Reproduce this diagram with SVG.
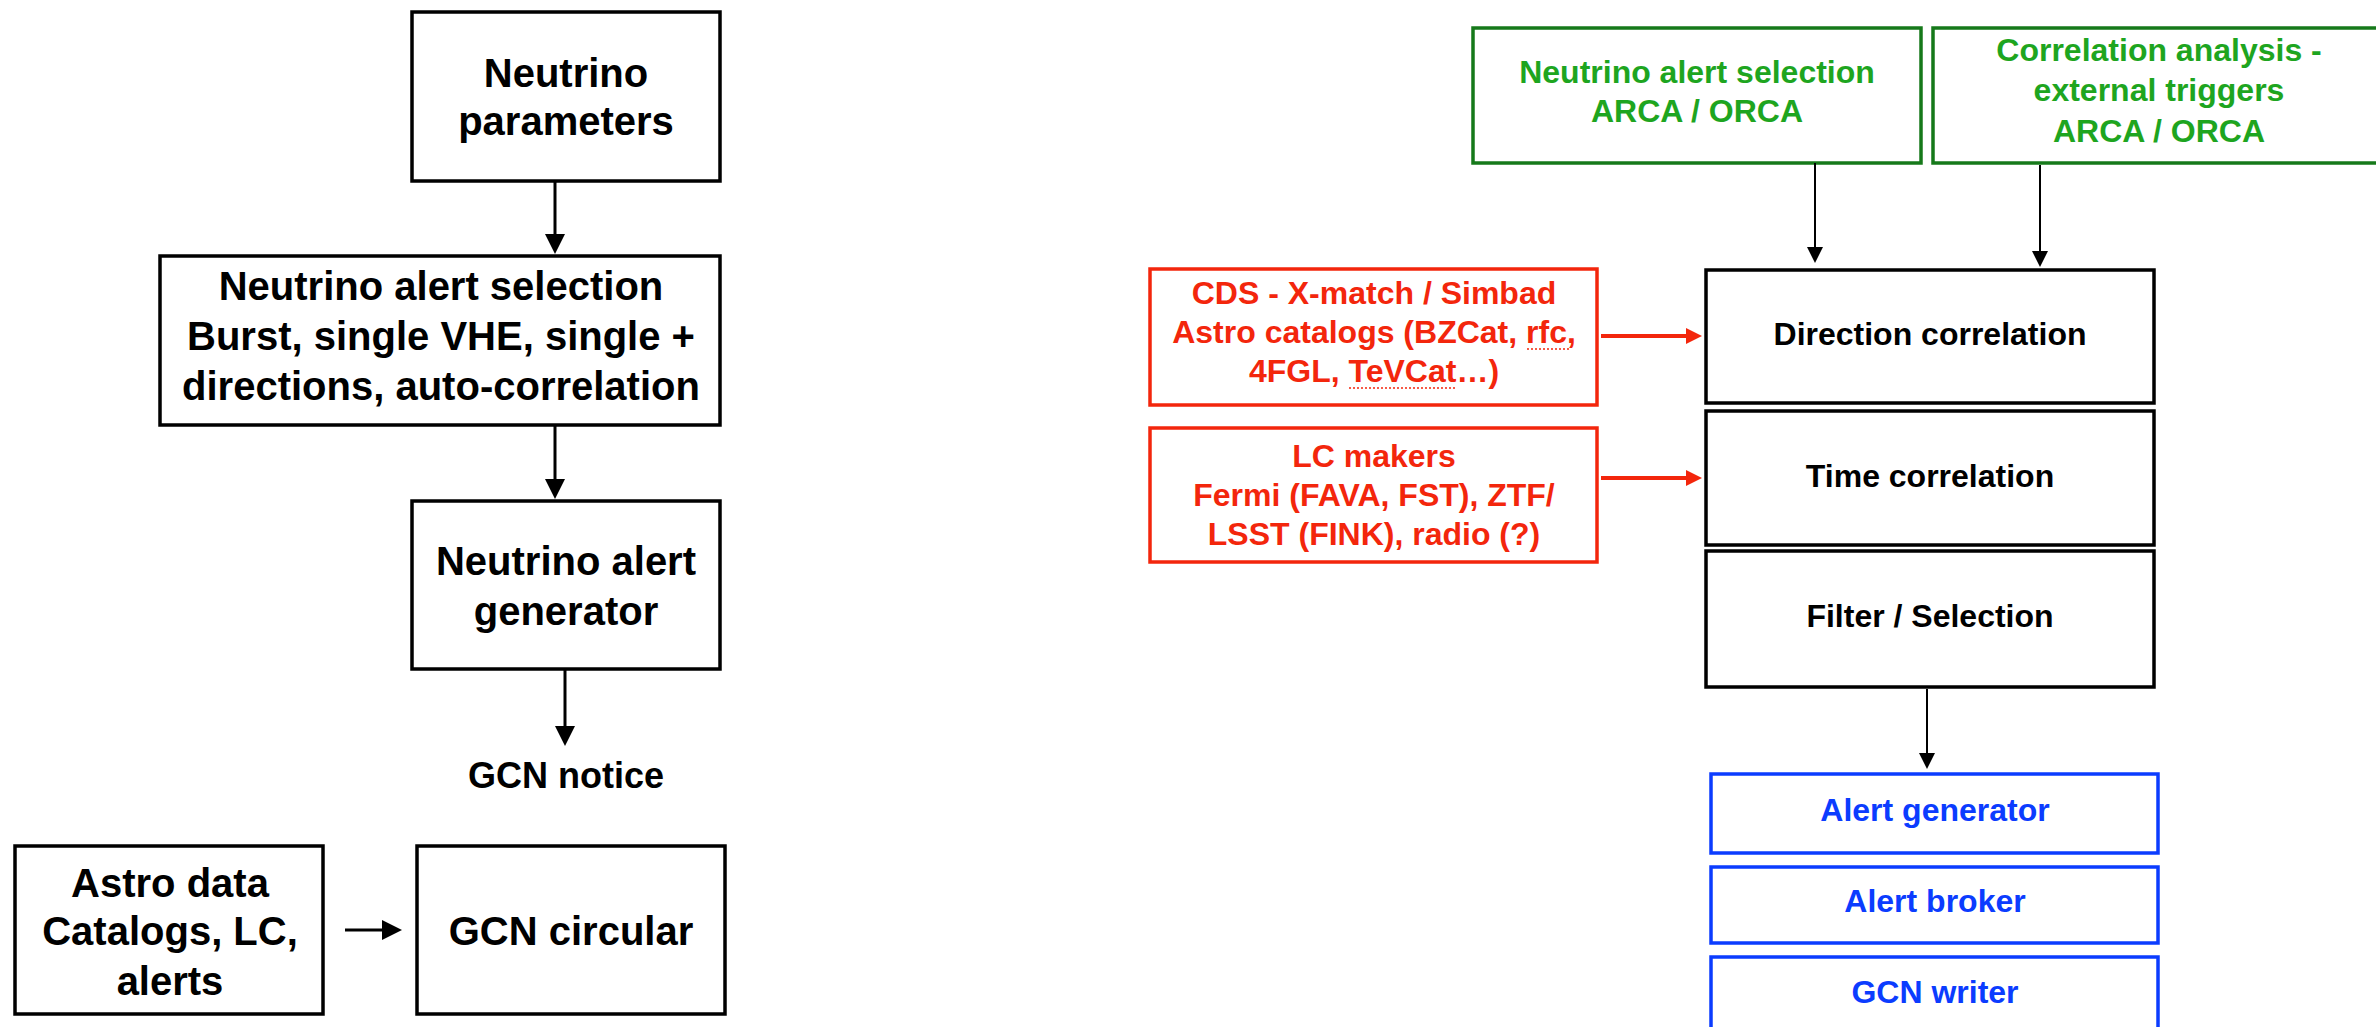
<svg xmlns="http://www.w3.org/2000/svg" width="2376" height="1027" viewBox="0 0 2376 1027">
  <defs>
    <style>
      text { font-family: "Liberation Sans", Arial, Helvetica, sans-serif; font-weight: bold; text-anchor: middle; }
      .box { fill: #ffffff; stroke: #000000; stroke-width: 3.5; }
      .gbox { fill: #ffffff; stroke: #16791a; stroke-width: 3.5; }
      .rbox { fill: #ffffff; stroke: #f3260c; stroke-width: 3.5; }
      .bbox { fill: #ffffff; stroke: #0b3cff; stroke-width: 3.5; }
      .big { font-size: 40px; fill: #000000; }
      .note { font-size: 36px; fill: #000000; }
      .mid { font-size: 32px; fill: #000000; }
      .green { font-size: 32px; fill: #1ea51f; }
      .red { font-size: 32px; fill: #f3260c; }
      .blue { font-size: 32px; fill: #0b3cff; }
      .link { fill: none; stroke: #000000; stroke-width: 3; }
      .thin { fill: none; stroke: #000000; stroke-width: 2; }
      .rlink { fill: none; stroke: #f3260c; stroke-width: 4; }
      .squiggle { fill: none; stroke: #f3260c; stroke-width: 1.6; stroke-dasharray: 2 2; }
    </style>
    <marker id="head-lg" markerUnits="userSpaceOnUse" markerWidth="20" markerHeight="20" viewBox="0 0 20 20" refX="12" refY="10" orient="auto">
      <path d="M0,0 L20,10 L0,20 Z" fill="#000000"/>
    </marker>
    <marker id="head-sm" markerUnits="userSpaceOnUse" markerWidth="16" markerHeight="16" viewBox="0 0 16 16" refX="10" refY="8" orient="auto">
      <path d="M0,0 L16,8 L0,16 Z" fill="#000000"/>
    </marker>
    <marker id="head-red" markerUnits="userSpaceOnUse" markerWidth="16" markerHeight="16" viewBox="0 0 16 16" refX="10" refY="8" orient="auto">
      <path d="M0,0 L16,8 L0,16 Z" fill="#f3260c"/>
    </marker>
  </defs>

  <rect width="2376" height="1027" fill="#ffffff"/>

  <!-- Neutrino alert chain (left) -->
  <g id="neutrino-parameters">
    <rect class="box" x="412" y="12" width="308" height="169"/>
    <text class="big" x="566" y="87">Neutrino</text>
    <text class="big" x="566" y="135">parameters</text>
  </g>
  <g id="neutrino-alert-selection">
    <rect class="box" x="160" y="256" width="560" height="169"/>
    <text class="big" x="441" y="300">Neutrino alert selection</text>
    <text class="big" x="441" y="350">Burst, single VHE, single +</text>
    <text class="big" x="441" y="400">directions, auto-correlation</text>
  </g>
  <g id="neutrino-alert-generator">
    <rect class="box" x="412" y="501" width="308" height="168"/>
    <text class="big" x="566" y="575">Neutrino alert</text>
    <text class="big" x="566" y="625">generator</text>
  </g>
  <g id="gcn-notice">
    <text class="note" x="566" y="788">GCN notice</text>
  </g>
  <g id="astro-data">
    <rect class="box" x="15" y="846" width="308" height="168"/>
    <text class="big" x="170" y="897">Astro data</text>
    <text class="big" x="170" y="945">Catalogs, LC,</text>
    <text class="big" x="170" y="995">alerts</text>
  </g>
  <g id="gcn-circular">
    <rect class="box" x="417" y="846" width="308" height="168"/>
    <text class="big" x="571" y="945">GCN circular</text>
  </g>

  <!-- Correlation pipeline (right) -->
  <g id="selection-arca-orca">
    <rect class="gbox" x="1473" y="28" width="448" height="135"/>
    <text class="green" x="1697" y="83">Neutrino alert selection</text>
    <text class="green" x="1697" y="122">ARCA / ORCA</text>
  </g>
  <g id="correlation-external">
    <rect class="gbox" x="1933" y="28" width="452" height="135"/>
    <text class="green" x="2159" y="61">Correlation analysis -</text>
    <text class="green" x="2159" y="101">external triggers</text>
    <text class="green" x="2159" y="142">ARCA / ORCA</text>
  </g>
  <g id="cds-catalogs">
    <rect class="rbox" x="1150" y="269" width="447" height="136"/>
    <text class="red" x="1374" y="304">CDS - X-match / Simbad</text>
    <text class="red" x="1374" y="343">Astro catalogs (BZCat, rfc,</text>
    <text class="red" x="1374" y="382">4FGL, TeVCat…)</text>
    <line class="squiggle" x1="1527" y1="349" x2="1570" y2="349"/>
    <line class="squiggle" x1="1349" y1="388" x2="1455" y2="388"/>
  </g>
  <g id="lc-makers">
    <rect class="rbox" x="1150" y="428" width="447" height="134"/>
    <text class="red" x="1374" y="467">LC makers</text>
    <text class="red" x="1374" y="506">Fermi (FAVA, FST), ZTF/</text>
    <text class="red" x="1374" y="545">LSST (FINK), radio (?)</text>
  </g>
  <g id="direction-correlation">
    <rect class="box" x="1706" y="270" width="448" height="133"/>
    <text class="mid" x="1930" y="345">Direction correlation</text>
  </g>
  <g id="time-correlation">
    <rect class="box" x="1706" y="411" width="448" height="134"/>
    <text class="mid" x="1930" y="487">Time correlation</text>
  </g>
  <g id="filter-selection">
    <rect class="box" x="1706" y="551" width="448" height="136"/>
    <text class="mid" x="1930" y="627">Filter / Selection</text>
  </g>
  <g id="alert-generator">
    <rect class="bbox" x="1711" y="774" width="447" height="79"/>
    <text class="blue" x="1935" y="821">Alert generator</text>
  </g>
  <g id="alert-broker">
    <rect class="bbox" x="1711" y="867" width="447" height="76"/>
    <text class="blue" x="1935" y="912">Alert broker</text>
  </g>
  <g id="gcn-writer">
    <rect class="bbox" x="1711" y="957" width="447" height="90"/>
    <text class="blue" x="1935" y="1003">GCN writer</text>
  </g>

  <!-- Connectors -->
  <g id="connectors">
    <line class="link" x1="555" y1="181" x2="555" y2="246" marker-end="url(#head-lg)"/>
    <line class="link" x1="555" y1="425" x2="555" y2="491" marker-end="url(#head-lg)"/>
    <line class="link" x1="565" y1="669" x2="565" y2="738" marker-end="url(#head-lg)"/>
    <line class="link" x1="345" y1="930" x2="394" y2="930" marker-end="url(#head-lg)"/>
    <line class="thin" x1="1815" y1="163" x2="1815" y2="257" marker-end="url(#head-sm)"/>
    <line class="thin" x1="2040" y1="165" x2="2040" y2="261" marker-end="url(#head-sm)"/>
    <line class="thin" x1="1927" y1="689" x2="1927" y2="763" marker-end="url(#head-sm)"/>
    <line class="rlink" x1="1601" y1="336" x2="1696" y2="336" marker-end="url(#head-red)"/>
    <line class="rlink" x1="1601" y1="478" x2="1696" y2="478" marker-end="url(#head-red)"/>
  </g>
</svg>
